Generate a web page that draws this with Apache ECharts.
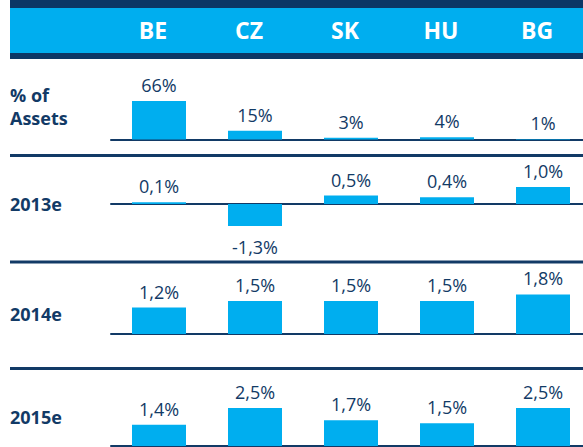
<!DOCTYPE html>
<html>
<head>
<meta charset="utf-8">
<script src="https://cdn.jsdelivr.net/npm/echarts@6/dist/echarts.min.js"></script>
<style>
  html, body { margin: 0; padding: 0; background: #fff; }
  #chart { width: 583px; height: 447px; }
</style>
</head>
<body>
<div id="chart"></div>
<script>
// data
const countries = ['BE', 'CZ', 'SK', 'HU', 'BG'];
const rowLabels = ['% of\nAssets', '2013e', '2014e', '2015e'];
const assetShare = [66, 15, 3, 4, 1];
const growth2013 = [0.1, -1.3, 0.5, 0.4, 1.0];
const growth2014 = [1.2, 1.5, 1.5, 1.5, 1.8];
const growth2015 = [1.4, 2.5, 1.7, 1.5, 2.5];

const NAVY = '#123a66';
const CYAN = '#00aeef';
const FONT = '"Open Sans", "Liberation Sans", sans-serif';

// row layout: top/height of each plot and axis range
const rows = [
  { data: assetShare, top: 101, height: 38.5, min: 0, max: 66, fmt: v => v + '%', labelY: 106 },
  { data: growth2013, top: 178.5, height: 51, min: -1.5, max: 1.5, labelY: 204 },
  { data: growth2014, top: 290, height: 44, min: 0, max: 2, labelY: 314 },
  { data: growth2015, top: 408, height: 38, min: 0, max: 2.5, labelY: 417 }
];

const pct = v => v.toFixed(1).replace('.', ',') + '%';

const grid = [], xAxis = [], yAxis = [], series = [];

rows.forEach((r, i) => {
  // grid runs a bit past the right edge, like the original slide crop
  grid.push({ left: 111, width: 480, top: r.top, height: r.height, outerBoundsMode: 'none' });
  xAxis.push({
    type: 'category', gridIndex: i, data: countries,
    axisLine: { lineStyle: { color: NAVY, width: 2 } },
    axisTick: { show: false }, axisLabel: { show: false }
  });
  yAxis.push({
    type: 'value', gridIndex: i, min: r.min, max: r.max,
    show: false, splitLine: { show: false }
  });
  series.push({
    type: 'bar', xAxisIndex: i, yAxisIndex: i,
    barWidth: 54,
    itemStyle: { color: CYAN },
    data: r.data.map(v => ({
      value: v,
      label: v < 0 ? { position: 'bottom', distance: 12 } : undefined
    })),
    label: {
      show: true, position: 'top', distance: 7,
      color: NAVY, fontFamily: FONT, fontSize: 18,
      formatter: p => (r.fmt || pct)(p.value)
    }
  });
});

// header row with the country names
grid.push({ left: 111, width: 480, top: 30, height: 1, outerBoundsMode: 'none' });
xAxis.push({
  type: 'category', gridIndex: 4, data: countries,
  axisLine: { show: false }, axisTick: { show: false },
  axisLabel: {
    color: '#fff', fontFamily: FONT, fontWeight: 'bold', fontSize: 23,
    margin: -1, verticalAlign: 'middle', padding: [0, 12, 0, 0]
  }
});
yAxis.push({ type: 'value', gridIndex: 4, show: false });

const graphic = [
  { type: 'rect', shape: { x: 10, y: 0, width: 573, height: 8 }, style: { fill: '#0b3766' } },
  { type: 'rect', shape: { x: 10, y: 8, width: 573, height: 45 }, style: { fill: CYAN } },
  { type: 'rect', shape: { x: 10, y: 53, width: 573, height: 6 }, style: { fill: '#0b3766' } }
];
[155.5, 262, 368.5].forEach(y => {
  graphic.push({
    type: 'line', shape: { x1: 10, y1: y, x2: 583, y2: y },
    style: { stroke: NAVY, lineWidth: 3 }
  });
});
rows.forEach((r, i) => {
  graphic.push({
    type: 'text', x: 10, y: r.labelY,
    style: {
      text: rowLabels[i], fill: NAVY, font: 'bold 18px ' + FONT,
      lineHeight: 23, verticalAlign: 'middle'
    }
  });
});

const chart = echarts.init(document.getElementById('chart'), null, { renderer: 'svg' });
chart.setOption({
  animation: false,
  grid, xAxis, yAxis, series, graphic
});
</script>
</body>
</html>
